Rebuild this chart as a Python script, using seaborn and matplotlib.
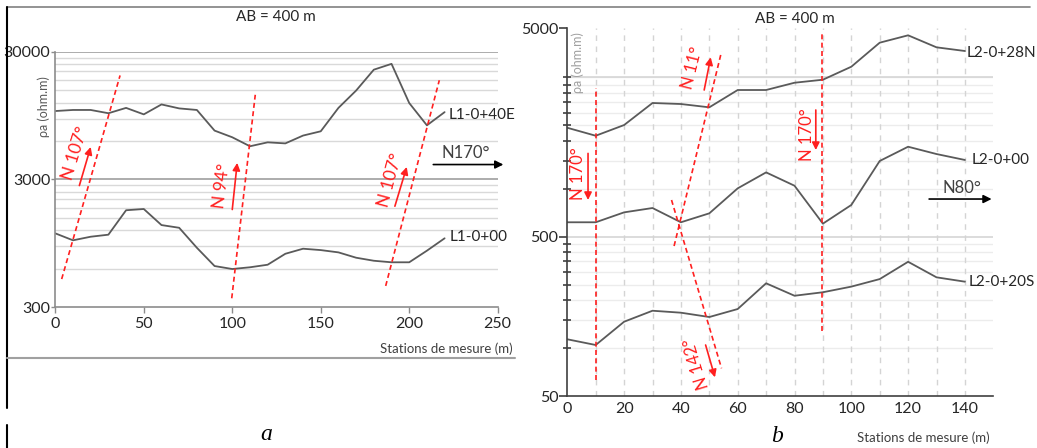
import matplotlib
matplotlib.use("Agg")
import matplotlib.pyplot as plt
import seaborn as sns
import pandas as pd
from matplotlib.lines import Line2D
from matplotlib.ticker import NullFormatter, FixedLocator, FixedFormatter

sns.set_theme(style="white")
plt.rcParams['font.family'] = ['Lato', 'DejaVu Sans']

# ---------------- data ----------------
stations_a = list(range(0, 230, 10))
l1_40e = [10300, 10500, 10500, 9900, 10900, 9700, 11600, 10800, 10500, 7240, 6420, 5460,
          5860, 5750, 6620, 7150, 10900, 14900, 21700, 24100, 11900, 7960, 10100]
l1_00 = [1137, 1003, 1070, 1110, 1724, 1763, 1320, 1257, 877, 631, 598, 617, 646, 787,
         862, 841, 807, 733, 694, 675, 675, 832, 1040]

stations_b = list(range(0, 150, 10))
l2_28n = [2415, 2152, 2512, 3454, 3404, 3245, 4168, 4168, 4630, 4837, 5836, 8260, 9190, 7725, 7325]
l2_00 = [616, 616, 711, 757, 616, 701, 1006, 1267, 1045, 604, 791, 1494, 1836, 1652, 1516]
l2_20s = [113.5, 104.5, 146.3, 171.5, 166.7, 156.6, 175.8, 255, 213, 224, 243, 271, 348, 278, 261]

names_a = ["L1-0+40E", "L1-0+00"]
names_b = ["L2-0+28N", "L2-0+00", "L2-0+20S"]

# ---------------- figure ----------------
W, H = 1037, 448
fig = plt.figure(figsize=(W / 100, H / 100), dpi=100)

def fx(px):
    return px / W

def fy(py):
    return 1 - py / H

axA = fig.add_axes([fx(55.3), fy(307.3), fx(497.7) - fx(55.3), fy(51.7) - fy(307.3)])
axB = fig.add_axes([fx(567.3), fy(396), fx(993.3) - fx(567.3), fy(28.3) - fy(396)])

line_col = '#5a5a5a'
red = '#ff2020'

# ---------- panel a ----------
dfa = pd.DataFrame({'station': stations_a * 2,
                    'rho': l1_40e + l1_00,
                    'line': [names_a[0]] * len(stations_a) + [names_a[1]] * len(stations_a)})
sns.lineplot(data=dfa, x='station', y='rho', units='line', estimator=None, color=line_col,
             lw=1.3, ax=axA, legend=False)
axA.set_yscale('log')
axA.set_xlim(0, 250)
axA.set_ylim(300, 30000)
axA.set_xlabel('')
axA.set_ylabel('')
for s in ['top', 'right']:
    axA.spines[s].set_visible(False)
for s in ['left', 'bottom']:
    axA.spines[s].set_color('#8c8c8c')
    axA.spines[s].set_linewidth(1.2)
axA.yaxis.set_major_locator(FixedLocator([300, 3000, 30000]))
axA.yaxis.set_major_formatter(FixedFormatter(['300', '3000', '30000']))
minors_a = [300 * k for k in range(2, 10)] + [3000 * k for k in range(2, 10)]
axA.yaxis.set_minor_locator(FixedLocator(minors_a))
axA.yaxis.set_minor_formatter(NullFormatter())
axA.set_xticks(range(0, 260, 50))
axA.tick_params(axis='y', which='major', length=3, width=1, color='#8c8c8c', pad=0.5,
                labelsize=11.5, labelcolor='#262626', left=True)
axA.tick_params(axis='y', which='minor', length=0, left=False)
axA.tick_params(axis='x', which='major', length=4, width=1, color='#8c8c8c', pad=3,
                labelsize=11.5, labelcolor='#262626', bottom=True)
axA.grid(False)
for v in minors_a:
    axA.axhline(v, color='#d9d9d9', lw=1.0, zorder=0)
for v in [3000, 30000]:
    axA.axhline(v, color='#a6a6a6', lw=1.3, zorder=0)

# red dashed structures (panel a)
dash = (0, (3, 2))
axA.plot([3.6, 36.6], [499, 19560], color=red, ls=dash, lw=1.2)
axA.plot([99.7, 113.0], [353, 13800], color=red, ls=dash, lw=1.2)
axA.plot([186.7, 217.0], [441, 17930], color=red, ls=dash, lw=1.2)

arrow_kw = dict(arrowstyle='-|>', color=red, lw=1.2, mutation_scale=11, shrinkA=0, shrinkB=0)
axA.annotate('', xy=(20.0, 5393), xytext=(13.6, 2690), arrowprops=arrow_kw)
axA.annotate('', xy=(102.8, 4048), xytext=(100.0, 1747), arrowprops=arrow_kw)
axA.annotate('', xy=(198.6, 3763), xytext=(191.9, 1854), arrowprops=arrow_kw)
axA.text(11.1, 4860, 'N 107°', color=red, fontsize=12.5, rotation=73, ha='center', va='center',
         rotation_mode='anchor')
axA.text(94.0, 2658, 'N 94°', color=red, fontsize=12.5, rotation=83, ha='center', va='center',
         rotation_mode='anchor')
axA.text(189.1, 2962, 'N 107°', color=red, fontsize=12.5, rotation=75, ha='center', va='center',
         rotation_mode='anchor')

axA.annotate('', xy=(253.2, 3928), xytext=(213.6, 3928),
             arrowprops=dict(arrowstyle='-|>', color='black', lw=1.2, mutation_scale=12,
                             shrinkA=0, shrinkB=0), annotation_clip=False)
axA.text(231.9, 4830, 'N170°', color='#404040', fontsize=12, ha='center', va='center')

axA.text(222.1, 9540, names_a[0], color='#262626', fontsize=11, ha='left', va='center')
axA.text(223.0, 1069, names_a[1], color='#262626', fontsize=11, ha='left', va='center')

# ---------- panel b ----------
dfb = pd.DataFrame({'station': stations_b * 3,
                    'rho': l2_28n + l2_00 + l2_20s,
                    'line': sum([[n] * len(stations_b) for n in names_b], [])})
sns.lineplot(data=dfb, x='station', y='rho', units='line', estimator=None, color=line_col,
             lw=1.3, ax=axB, legend=False)
axB.set_yscale('log')
axB.set_xlim(0, 150)
ytop_b = 10170
axB.set_ylim(50, ytop_b)
axB.set_xlabel('')
axB.set_ylabel('')
for s in ['top', 'right']:
    axB.spines[s].set_visible(False)
for s in ['left', 'bottom']:
    axB.spines[s].set_color('#404040')
    axB.spines[s].set_linewidth(1.2)
axB.yaxis.set_major_locator(FixedLocator([50, 500, ytop_b]))
axB.yaxis.set_major_formatter(FixedFormatter(['50', '500', '5000']))
minors_b = [50 * k for k in range(2, 10)] + [500 * k for k in range(2, 11)]
axB.yaxis.set_minor_locator(FixedLocator(minors_b))
axB.yaxis.set_minor_formatter(NullFormatter())
axB.set_xticks(range(0, 150, 20))
axB.tick_params(axis='y', which='major', length=6, width=1.2, color='#404040', pad=0.5,
                labelsize=11.5, labelcolor='#262626', left=True)
axB.tick_params(axis='y', which='minor', length=6, width=1.2, color='#404040',
                direction='inout', left=True)
axB.tick_params(axis='x', which='major', length=0, pad=4, labelsize=11.5,
                labelcolor='#262626', bottom=True)
axB.grid(False)
for v in minors_b:
    axB.axhline(v, color='#ececec', lw=1.0, zorder=0)
for v in [500, 5000]:
    axB.axhline(v, color='#d6d6d6', lw=1.2, zorder=0)
for v in range(10, 150, 10):
    axB.axvline(v, color='#d4d4d4', lw=1.0, ls=(0, (4, 4)), zorder=0)

axB.plot([10, 10], [62.9, 4271], color=red, ls=dash, lw=1.2)
axB.plot([89.8, 89.8], [128.5, 9600], color=red, ls=dash, lw=1.2)
axB.plot([37.6, 54.3], [437, 7250], color=red, ls=dash, lw=1.2)
axB.plot([36.7, 54.3], [850, 74.6], color=red, ls=dash, lw=1.2)

axB.annotate('', xy=(7.3, 850), xytext=(7.3, 1667), arrowprops=arrow_kw)
axB.annotate('', xy=(87.5, 1750), xytext=(87.5, 3122), arrowprops=arrow_kw)
axB.annotate('', xy=(50.5, 6687), xytext=(48.2, 4168), arrowprops=arrow_kw)
axB.annotate('', xy=(52.0, 65.5), xytext=(48.7, 104.5), arrowprops=arrow_kw)
axB.text(3.6, 1240, 'N 170°', color=red, fontsize=12, rotation=90, ha='center', va='center',
         rotation_mode='anchor')
axB.text(84.3, 2174, 'N 170°', color=red, fontsize=12, rotation=90, ha='center', va='center',
         rotation_mode='anchor')
axB.text(44.0, 5703, 'N 11°', color=red, fontsize=12, rotation=76, ha='center', va='center',
         rotation_mode='anchor')
axB.text(45.5, 80.2, 'N 142°', color=red, fontsize=12, rotation=107, ha='center', va='center',
         rotation_mode='anchor')

axB.annotate('', xy=(149.4, 862), xytext=(127.4, 862),
             arrowprops=dict(arrowstyle='-|>', color='black', lw=1.2, mutation_scale=12,
                             shrinkA=0, shrinkB=0), annotation_clip=False)
axB.text(138.8, 1006, 'N80°', color='#404040', fontsize=12, ha='center', va='center')

axB.text(140.6, 7165, names_b[0], color='#262626', fontsize=11, ha='left', va='center')
axB.text(142.3, 1515, names_b[1], color='#262626', fontsize=11, ha='left', va='center')
axB.text(141.2, 260, names_b[2], color='#262626', fontsize=11, ha='left', va='center')

# ---------- figure-level texts ----------
fig.text(fx(276), fy(17), 'AB = 400 m', fontsize=11, color='#262626', ha='center', va='center')
fig.text(fx(795), fy(19), 'AB = 400 m', fontsize=11, color='#262626', ha='center', va='center')
fig.text(fx(43.3), fy(106.7), 'ρa (ohm.m)', fontsize=9, color='#595959', rotation=90,
         ha='center', va='center')
fig.text(fx(578), fy(62.5), 'ρa (ohm.m)', fontsize=9, color='#a0a0a0', rotation=90,
         ha='center', va='center')
fig.text(fx(513), fy(349), 'Stations de mesure (m)', fontsize=9.5, color='#404040',
         ha='right', va='center')
fig.text(fx(990), fy(438), 'Stations de mesure (m)', fontsize=9.5, color='#404040',
         ha='right', va='center')
fig.text(fx(266), fy(434), 'a', fontsize=17, family='Liberation Serif', style='italic',
         color='black', ha='center', va='center')
fig.text(fx(777), fy(436), 'b', fontsize=17, family='Liberation Serif', style='italic',
         color='black', ha='center', va='center')

# frame lines of the original composite
fig.add_artist(Line2D([fx(7), fx(1030)], [fy(7), fy(7)], color='#808080', lw=1.2))
fig.add_artist(Line2D([fx(7), fx(7)], [fy(7), fy(408)], color='black', lw=1.5))
fig.add_artist(Line2D([fx(7), fx(7)], [fy(425), fy(448)], color='black', lw=1.5))
fig.add_artist(Line2D([fx(7), fx(515)], [fy(358), fy(358)], color='#a0a0a0', lw=1.5))

fig.savefig('out.png', dpi=100)
